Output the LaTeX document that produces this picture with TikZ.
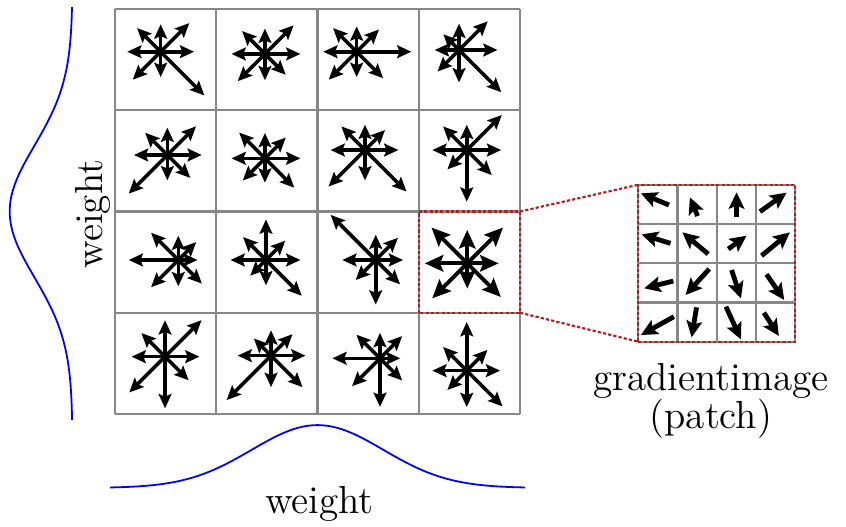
\documentclass[tikz,border=0pt]{standalone}
\usepackage{amsmath}
\usepackage{amssymb}
\usetikzlibrary{arrows.meta}

\definecolor{gridgray}{RGB}{135,135,135}
\definecolor{patchred}{RGB}{175,30,35}

\tikzset{
  gridline/.style={gridgray, line width=0.6pt},
  hogarrow/.style={line width=1pt, -{Stealth[length=4pt, width=3.6pt, inset=0.7pt]}},
  patcharrow/.style={line width=1.35pt, -{Stealth[length=4.6pt, width=4.4pt, inset=0.9pt]}},
  zoomline/.style={patchred, line width=0.6pt, dash pattern=on 0.9pt off 0.6pt},
  weightcurve/.style={blue, line width=0.5pt},
  lbl/.style={font=\fontsize{11}{13}\selectfont, inner sep=0pt}
}

% orientation histogram of one cell: centre, then lengths E NE N NW W SW S SE
\newcommand{\hogstar}[9]{%
  \foreach \ang/\len in {0/#2,45/#3,90/#4,135/#5,180/#6,225/#7,270/#8,315/#9}
    \draw[hogarrow] (#1) -- ++(\ang:\len);
}

\begin{document}
\begin{tikzpicture}
  \useasboundingbox (-1.136,-1.116) rectangle (7.220,4.089);

  % gaussian weighting along both axes
  \draw[weightcurve] plot[domain=-0.05:4.05, samples=90, smooth]
    (\x, {-0.73 + 0.62*exp(-((\x-2)^2)/(2*0.65^2))});
  \draw[weightcurve] plot[domain=-0.06:4.02, samples=90, smooth]
    ({-0.42 - 0.62*exp(-((\x-2)^2)/(2*0.65^2))}, \x);
  \node[lbl, rotate=90, anchor=base] (weightleft) at (-0.124,1.975) {weight};
  \node[lbl, anchor=base] (weightbottom) at (2.02,-0.98) {weight};

  % 4x4 cells
  \draw[gridline] (0,0) grid (4,4);

  \hogstar{0.451,3.578}{.33}{.40}{.27}{.33}{.33}{.39}{.25}{.61}
  \hogstar{1.481,3.556}{.35}{.40}{.25}{.32}{.33}{.38}{.26}{.29}
  \hogstar{2.387,3.578}{.54}{.31}{.25}{.33}{.33}{.39}{.25}{.37}
  \hogstar{3.398,3.595}{.38}{.40}{.26}{.22}{.24}{.30}{.32}{.59}

  \hogstar{0.517,2.558}{.34}{.40}{.27}{.31}{.33}{.54}{.25}{.32}
  \hogstar{1.481,2.525}{.35}{.29}{.25}{.36}{.33}{.31}{.24}{.41}
  \hogstar{2.469,2.607}{.33}{.28}{.25}{.33}{.34}{.51}{.30}{.58}
  \hogstar{3.474,2.607}{.34}{.49}{.25}{.33}{.34}{.27}{.51}{.35}

  \hogstar{0.625,1.521}{.19}{.25}{.24}{.38}{.49}{.38}{.26}{.33}
  \hogstar{1.491,1.521}{.34}{.27}{.40}{.32}{.35}{.22}{.25}{.50}
  \hogstar{2.575,1.521}{.27}{.31}{.25}{.63}{.33}{.28}{.44}{.34}
  \begin{scope}[hogarrow/.style={line width=1.1pt, -{Stealth[length=5.2pt, width=4.6pt, inset=0.9pt]}}]
    \hogstar{3.479,1.488}{.31}{.50}{.33}{.50}{.42}{.49}{.25}{.47}
  \end{scope}

  \hogstar{0.494,0.566}{.34}{.51}{.36}{.33}{.33}{.50}{.51}{.33}
  \hogstar{1.541,0.576}{.34}{.30}{.25}{.24}{.33}{.62}{.31}{.44}
  \hogstar{2.617,0.550}{.20}{.31}{.25}{.33}{.47}{.39}{.48}{.31}
  \hogstar{3.474,0.428}{.33}{.29}{.48}{.33}{.34}{.27}{.36}{.50}

  % selected cell and its zoomed patch
  \coordinate (cellNE) at (4,2);
  \coordinate (cellSE) at (4,1);
  \coordinate (patchNW) at (5.168,2.264);
  \coordinate (patchSW) at (5.168,0.714);
  \draw[zoomline] (3,1) rectangle (4,2);
  \draw[zoomline] (cellNE) -- (patchNW);
  \draw[zoomline] (cellSE) -- (patchSW);

  \begin{scope}[shift={(patchSW)}, scale=0.3875]
    \draw[gridline] (0,0) grid (4,4);
    \draw[zoomline] (0,0) rectangle (4,4);

    \draw[patcharrow] (0.782,3.484) -- (0.067,3.781);
    \draw[patcharrow] (1.512,3.203) -- (1.316,3.680);
    \draw[patcharrow] (2.506,3.169) -- (2.506,3.806);
    \draw[patcharrow] (3.102,3.314) -- (3.781,3.799);

    \draw[patcharrow] (0.823,2.506) -- (0.085,2.735);
    \draw[patcharrow] (1.783,2.235) -- (1.123,2.787);
    \draw[patcharrow] (2.294,2.361) -- (2.761,2.702);
    \draw[patcharrow] (3.143,2.191) -- (3.866,2.787);

    \draw[patcharrow] (0.893,1.546) -- (0.152,1.360);
    \draw[patcharrow] (1.809,1.853) -- (1.205,1.190);
    \draw[patcharrow] (2.379,1.827) -- (2.617,1.105);
    \draw[patcharrow] (3.270,1.716) -- (3.721,1.063);

    \draw[patcharrow] (0.908,0.637) -- (0.067,0.170);
    \draw[patcharrow] (1.486,0.875) -- (1.360,0.111);
    \draw[patcharrow] (2.235,0.893) -- (2.617,0.059);
    \draw[patcharrow] (3.203,0.738) -- (3.585,0.145);
  \end{scope}

  \node[lbl, anchor=base] (patchname) at (5.885,0.23) {gradientimage};
  \node[lbl, anchor=base] (patchnote) at (5.885,-0.145) {(patch)};
\end{tikzpicture}
\end{document}
